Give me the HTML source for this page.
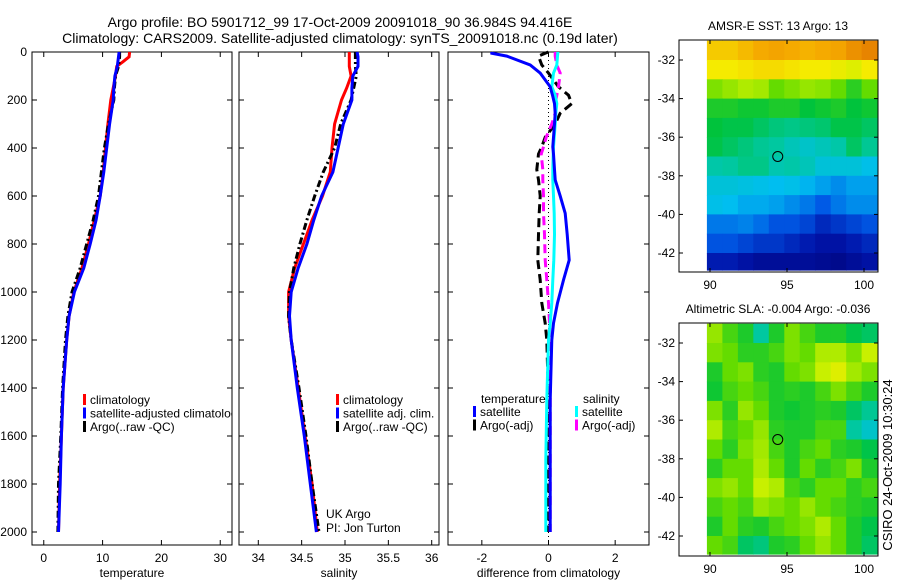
<!DOCTYPE html>
<html><head><meta charset="utf-8"><style>
body{margin:0;background:#fff}
svg{display:block;font-family:"Liberation Sans",sans-serif}
</style></head><body>
<svg id="s" width="900" height="580" xmlns="http://www.w3.org/2000/svg">
<defs><clipPath id="c1"><rect x="32" y="40" width="200" height="520"/></clipPath></defs>
<rect width="900" height="580" fill="#fff"/>
<text x="340" y="27" font-size="14" text-anchor="middle">Argo profile: BO 5901712_99 17-Oct-2009 20091018_90 36.984S 94.416E</text>
<text x="340" y="43" font-size="14" text-anchor="middle">Climatology: CARS2009. Satellite-adjusted climatology: synTS_20091018.nc (0.19d later)</text>
<text transform="translate(892,465) rotate(-90)" font-size="13" text-anchor="middle">CSIRO 24-Oct-2009 10:30:24</text>
</svg>
<script>
const depths=[0,20,40,60,100,150,200,300,400,500,600,700,800,900,1000,1100,1200,1400,1600,1800,2000];
const tClim=[14.6,14.5,13.5,12.4,12.2,11.8,11.4,10.9,10.5,10.1,9.6,8.6,7.6,6.5,5.1,4.3,3.9,3.3,3.0,2.7,2.5];
const tSat=[12.8,12.7,12.6,12.5,12.1,11.9,11.8,11.2,10.7,10.2,9.6,8.9,7.9,6.8,5.2,4.3,3.9,3.3,3.0,2.8,2.5];
const tArgo=[12.9,12.9,12.8,12.7,12.2,12.0,11.9,11.0,10.3,9.8,9.3,8.4,7.3,6.2,4.8,4.1,3.7,3.2,2.9,2.5,2.4];
const sClim=[35.05,35.05,35.05,35.05,35.07,35.02,34.96,34.88,34.85,34.83,34.74,34.62,34.52,34.42,34.35,34.35,34.38,34.46,34.54,34.62,34.68];
const sSat=[35.14,35.15,35.15,35.15,35.09,35.08,35.08,34.98,34.92,34.86,34.73,34.64,34.56,34.46,34.38,34.36,34.38,34.45,34.53,34.6,34.67];
const sArgo=[35.12,35.12,35.12,35.12,35.13,35.1,35.07,34.95,34.88,34.75,34.65,34.56,34.48,34.41,34.36,34.35,34.38,34.47,34.55,34.62,34.7];
const dDepths=[0,5,17,54,88,145,180,215,255,300,355,395,425,490,533,600,672,760,867,950,1046,1130,1200,1450,1700,2000];
const dTSat=[-1.7,-1.7,-1.25,-0.55,-0.25,0.05,0.12,0.18,0.2,0.18,0.15,0.13,0.15,0.18,0.2,0.35,0.5,0.56,0.62,0.45,0.27,0.15,0.1,0.05,0.05,0.05];
const dTArgo=[0,-0.1,-0.3,-0.2,0,0.3,0.6,0.7,0.35,0.2,-0.1,-0.2,-0.3,-0.35,-0.3,-0.25,-0.28,-0.3,-0.32,-0.25,-0.2,-0.1,-0.05,0,0,0];
const dSSat=[0.28,0.28,0.27,0.25,0.15,0.1,0.2,0.25,0.22,0.2,0.17,0.15,0.14,0.13,0.13,0.15,0.17,0.18,0.16,0.13,0.1,0.05,0,-0.05,-0.08,-0.08];
const dSArgo=[0.2,0.2,0.2,0.25,0.35,0.3,0.25,0.2,0.2,0.1,-0.07,-0.15,-0.22,-0.17,-0.17,-0.15,-0.15,-0.12,-0.1,-0.05,0,0.03,0.05,0.05,0.05,0.05];
const depthTicks=[0,200,400,600,800,1000,1200,1400,1600,1800,2000];
const tTicks=[0,10,20,30];
const sTicks=[34,34.5,35,35.5,36];
const dTicks=[-2,0,2];
const latTicks=[-32,-34,-36,-38,-40,-42];
const lonTicks=[90,95,100];
const sstGrid=[
[0.8,0.8,0.82,0.84,0.85,0.84,0.83,0.84,0.85,0.88,0.9],
[0.76,0.76,0.77,0.78,0.78,0.77,0.76,0.76,0.74,0.72,0.76],
[0.62,0.64,0.66,0.65,0.6,0.62,0.64,0.63,0.6,0.56,0.6],
[0.55,0.55,0.54,0.54,0.55,0.55,0.53,0.54,0.55,0.53,0.54],
[0.53,0.52,0.52,0.5,0.48,0.47,0.48,0.49,0.52,0.52,0.5],
[0.52,0.5,0.48,0.46,0.45,0.42,0.4,0.42,0.44,0.5,0.46],
[0.44,0.45,0.47,0.47,0.43,0.44,0.42,0.38,0.38,0.38,0.36],
[0.38,0.38,0.37,0.36,0.35,0.36,0.34,0.32,0.3,0.32,0.32],
[0.36,0.35,0.33,0.33,0.32,0.3,0.28,0.25,0.28,0.3,0.3],
[0.28,0.28,0.29,0.27,0.24,0.24,0.22,0.18,0.2,0.22,0.24],
[0.24,0.24,0.22,0.2,0.2,0.18,0.16,0.14,0.14,0.16,0.18],
[0.16,0.16,0.14,0.12,0.12,0.12,0.12,0.11,0.1,0.12,0.14]];
const slaGrid=[
[0.64,0.58,0.55,0.45,0.55,0.62,0.58,0.55,0.55,0.52,0.5],
[0.62,0.6,0.56,0.56,0.58,0.62,0.6,0.66,0.66,0.62,0.68],
[0.55,0.6,0.62,0.56,0.55,0.6,0.62,0.68,0.72,0.65,0.62],
[0.54,0.58,0.6,0.58,0.55,0.56,0.55,0.58,0.62,0.58,0.55],
[0.62,0.56,0.64,0.6,0.55,0.54,0.55,0.56,0.55,0.5,0.46],
[0.66,0.58,0.6,0.64,0.56,0.55,0.55,0.58,0.58,0.45,0.4],
[0.6,0.56,0.62,0.65,0.58,0.55,0.58,0.6,0.56,0.55,0.52],
[0.56,0.6,0.6,0.66,0.6,0.55,0.6,0.56,0.58,0.62,0.55],
[0.62,0.64,0.6,0.68,0.66,0.58,0.56,0.6,0.6,0.56,0.58],
[0.58,0.6,0.58,0.64,0.62,0.6,0.64,0.6,0.58,0.56,0.55],
[0.55,0.6,0.56,0.55,0.58,0.6,0.62,0.66,0.6,0.55,0.52],
[0.6,0.58,0.5,0.48,0.55,0.56,0.6,0.64,0.6,0.55,0.5]];
const floatPos=[94.4,-37.0];

const NS="http://www.w3.org/2000/svg";
const svg=document.getElementById('s');
function el(t,a,p){const e=document.createElementNS(NS,t);for(const k in a)e.setAttribute(k,a[k]);(p||svg).appendChild(e);return e;}
function lin(d0,d1,r0,r1){return v=>r0+(v-d0)*(r1-r0)/(d1-d0);}
const yD=lin(0,2000,52,532);

function panel(name,x0,x1,xs,xticks,fmt,xlabel){
  const g=el('g',{});
  
  
  el('rect',{x:x0,y:52,width:x1-x0,height:493,fill:'none',stroke:'#000','stroke-width':1},g);
  xticks.forEach(t=>{const x=xs(t);
    el('line',{x1:x,x2:x,y1:545,y2:540,stroke:'#000'},g);el('line',{x1:x,x2:x,y1:52,y2:57,stroke:'#000'},g);
    const tx=el('text',{x:x,y:562,'font-size':12,'text-anchor':'middle'},g);tx.textContent=fmt(t);
    
    });
  depthTicks.forEach(d=>{const y=yD(d);
    el('line',{x1:x0,x2:x0+5,y1:y,y2:y,stroke:'#000'},g);el('line',{x1:x1,x2:x1-5,y1:y,y2:y,stroke:'#000'},g);});
  const l=el('text',{x:(x0+x1)/2,y:577,'font-size':12,'text-anchor':'middle'},g);l.textContent=xlabel;
  
  
  return g;
}
function line(g,name,xs,xv,dv,color,dash,w){
  const pts=xv.map((v,i)=>xs(v).toFixed(1)+','+yD(dv[i]).toFixed(1)).join(' ');
  const p=el('polyline',{points:pts,fill:'none',stroke:color,'stroke-width':w||3,'stroke-dasharray':dash||'none'},g);
  
  
}
function legend(g,x,y,items){
  items.forEach((it,i)=>{
    const r=el('rect',{x:x,y:y+i*13.5-10,width:3,height:11,fill:it[1]},g);
    
    
    const t=el('text',{x:x+7,y:y+i*13.5,'font-size':12},g);t.textContent=it[0];
    
    
  });
}
depthTicks.forEach(d=>{const t=el('text',{x:27,y:yD(d)+4,'font-size':12,'text-anchor':'end'});t.textContent=d;
  
  });

const xT=lin(-2,32,32,232);
const g1=panel('temperature-panel',32,232,xT,tTicks,v=>v,'temperature');
line(g1,'temp-climatology',xT,tClim,depths,'#f00');
line(g1,'temp-argo',xT,tArgo,depths,'#000','7,3,2,3');
line(g1,'temp-satellite-adjusted',xT,tSat,depths,'#00f');
const g1l=el('g',{'clip-path':'url(#c1)'},g1);
legend(g1l,83,404,[['climatology','#f00'],['satellite-adjusted climatology','#00f'],['Argo(..raw -QC)','#000']]);

const xS=lin(34,35,258.3,345);
const g2=panel('salinity-panel',239,439,xS,sTicks,v=>v,'salinity');
line(g2,'sal-climatology',xS,sClim,depths,'#f00');
line(g2,'sal-argo',xS,sArgo,depths,'#000','7,3,2,3');
line(g2,'sal-satellite-adjusted',xS,sSat,depths,'#00f');
legend(g2,336,404,[['climatology','#f00'],['satellite adj. clim.','#00f'],['Argo(..raw -QC)','#000']]);
[['UK Argo',518],['PI: Jon Turton',532]].forEach(a=>{const t=el('text',{x:326,y:a[1],'font-size':12},g2);t.textContent=a[0];
  
  });

const xDf=lin(-3,3,448.5,648.5);
const g3=panel('difference-panel',448,649,xDf,dTicks,v=>v,'difference from climatology');
el('line',{x1:xDf(0),x2:xDf(0),y1:52,y2:545,stroke:'#000','stroke-dasharray':'1,3'},g3);
line(g3,'diff-temp-argo',xDf,dTArgo,dDepths,'#000','9,5');
line(g3,'diff-sal-argo',xDf,dSArgo,dDepths,'#f0f','9,5');
line(g3,'diff-sal-satellite',xDf,dSSat,dDepths,'#0ff');
line(g3,'diff-temp-satellite',xDf,dTSat,dDepths,'#00f');
{const t=el('text',{x:481,y:403,'font-size':12},g3);t.textContent='temperature';
 
 const u=el('text',{x:583,y:403,'font-size':12},g3);u.textContent='salinity';
 }
legend(g3,473,416,[['satellite','#00f'],['Argo(-adj)','#000']]);
legend(g3,575,416,[['satellite','#0ff'],['Argo(-adj)','#f0f']]);

const stops=[[0.05,[0,0,110]],[0.15,[0,20,170]],[0.25,[0,90,230]],[0.35,[0,190,240]],[0.45,[0,200,160]],[0.53,[0,195,60]],[0.6,[100,220,0]],[0.68,[200,240,0]],[0.76,[245,235,0]],[0.84,[245,170,0]],[0.95,[220,100,0]]];
function cmap(v){if(v<=stops[0][0])return 'rgb('+stops[0][1]+')';
  for(let i=1;i<stops.length;i++){if(v<=stops[i][0]){const a=stops[i-1],b=stops[i],f=(v-a[0])/(b[0]-a[0]);
    return 'rgb('+a[1].map((c,k)=>Math.round(c+(b[1][k]-c)*f)).join(',')+')';}}
  return 'rgb('+stops[stops.length-1][1]+')';}

function mapPanel(name,top,bottom,grid,title){
  const g=el('g',{});
  
  
  const xL=lin(90,95,710,787), yL=lin(-32,-42,top+20,top+213);
  const rows=grid.length, cols=grid[0].length;
  const lon0=89.8, lon1=100.85, lat0=-31, lat1=-43;
  grid.forEach((row,r)=>row.forEach((v,c)=>{
    const xa=xL(lon0+(lon1-lon0)*c/cols), xb=xL(lon0+(lon1-lon0)*(c+1)/cols);
    const ya=Math.max(top,yL(lat0+(lat1-lat0)*r/rows)), yb=Math.min(bottom-2,yL(lat0+(lat1-lat0)*(r+1)/rows));
    const rc=el('rect',{x:xa.toFixed(1),y:ya.toFixed(1),width:(xb-xa+0.6).toFixed(1),height:(yb-ya+0.6).toFixed(1),fill:cmap(v)},g);
    
    
  }));
  el('rect',{x:679,y:top,width:199,height:bottom-top,fill:'none',stroke:'#000'},g);
  latTicks.forEach(l=>{const y=yL(l);
    el('line',{x1:679,x2:683,y1:y,y2:y,stroke:'#000'},g);el('line',{x1:878,x2:874,y1:y,y2:y,stroke:'#000'},g);
    const t=el('text',{x:675,y:y+4,'font-size':12,'text-anchor':'end'},g);t.textContent=l;
    
    });
  lonTicks.forEach(l=>{const x=xL(l);
    el('line',{x1:x,x2:x,y1:bottom,y2:bottom-4,stroke:'#000'},g);el('line',{x1:x,x2:x,y1:top,y2:top+4,stroke:'#000'},g);
    const t=el('text',{x:x,y:bottom+17,'font-size':12,'text-anchor':'middle'},g);t.textContent=l;
    
    });
  const c=el('circle',{cx:xL(floatPos[0]),cy:yL(floatPos[1]),r:5,fill:'none',stroke:'#000'},g);
  
  
  const t=el('text',{x:778,y:top-10,'font-size':12,'text-anchor':'middle'},g);t.textContent=title;
  
  
}
mapPanel('sst-map',40,272,sstGrid,'AMSR-E SST: 13 Argo: 13');
mapPanel('sla-map',323,556,slaGrid,'Altimetric SLA: -0.004 Argo: -0.036');
</script>
</body></html>
